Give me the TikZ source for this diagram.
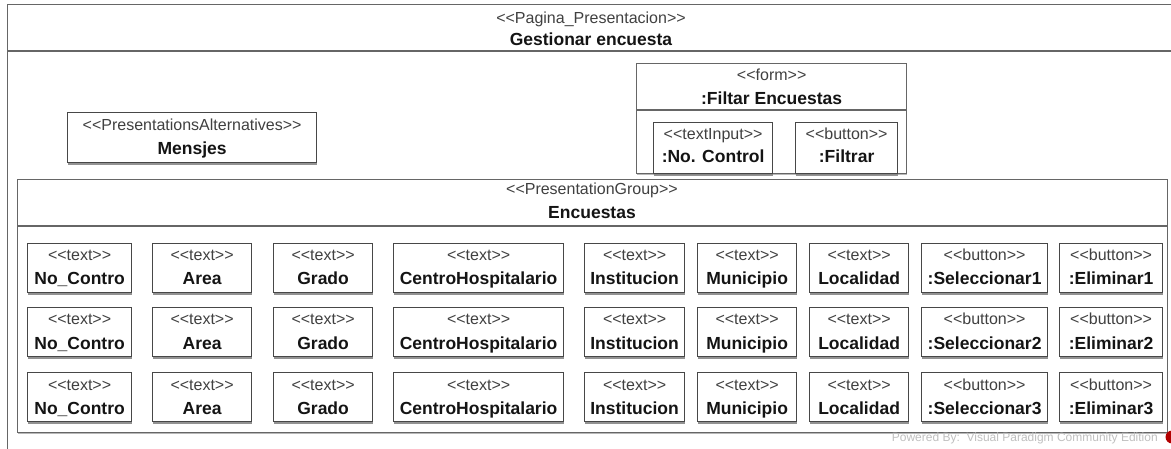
\documentclass[tikz,border=0pt]{standalone}
\usepackage{fontspec}
\setmainfont{Liberation Sans}
\usetikzlibrary{shadows}

% guillemet-free double angle brackets for stereotypes
\newcommand\dlt{<\kern0pt<}
\newcommand\dgt{>\kern0pt>}
\newcommand\stereo[1]{\dlt#1\dgt}

\tikzset{
  frameline/.style={draw=black!60, line width=1.4pt},
  uibox/.style={draw=black!72, line width=1.2pt, fill=white, inner sep=0pt, anchor=north west,
    drop shadow={shadow xshift=0.4pt, shadow yshift=-2.2pt, fill=black!50, opacity=0.85}},
  groupbox/.style={draw=black!60, line width=1.3pt, fill=white, inner sep=0pt, anchor=north west,
    drop shadow={shadow xshift=0.4pt, shadow yshift=-1.6pt, fill=black!35, opacity=0.8}},
  sttext/.style={font=\fontsize{16}{18}\selectfont, text=black!75, anchor=base, inner sep=0pt},
  nmtext/.style={font=\fontsize{17.5}{19}\selectfont\bfseries, text=black!92, anchor=base, inner sep=0pt},
  wmtext/.style={font=\fontsize{12}{13}\selectfont, text=black!25, anchor=base east, inner sep=0pt},
}

% UI element: name, x, y (top left), width, height, stereotype, label
\newcommand\uielem[7]{%
  \node[uibox, minimum width=#4pt, minimum height=#5pt] (#1) at (#2,#3) {};
  \node[sttext] (#1-s) at ([yshift=-18pt]#1.north) {\stereo{#6}};
  \node[nmtext] (#1-n) at ([yshift=-42pt]#1.north) {#7};
}

\begin{document}
\begin{tikzpicture}[x=1pt, y=-1pt]
\useasboundingbox (0,0) rectangle (1171,449);
\clip (0,0) rectangle (1171,449);

% page frame with its title bar
\node[draw=black!60, line width=1.4pt, inner sep=0pt, anchor=north west,
      minimum width=1200pt, minimum height=480pt] (page) at (7,4) {};
\draw[frameline] (7,51) -- (1171,51);
\node[sttext] (page-s) at (591,24) {\stereo{Pagina\_Presentacion}};
\node[nmtext] (page-n) at (591,46) {Gestionar encuesta};

% message alternatives
\node[uibox, minimum width=249pt, minimum height=50pt] (msg) at (67,112) {};
\node[sttext] (msg-s) at ([yshift=-19pt]msg.north) {\stereo{PresentationsAlternatives}};
\node[nmtext] (msg-n) at ([yshift=-43pt]msg.north) {Mensjes};

% filter form
\node[groupbox, minimum width=270pt, minimum height=110pt] (form) at (636,63) {};
\draw[draw=black!60, line width=1.2pt] (form.west |- 0,110) -- (form.east |- 0,110);
\node[sttext] (form-s) at ([yshift=-18pt]form.north) {\stereo{form}};
\node[nmtext] (form-n) at ([yshift=-42pt]form.north) {:Filtar Encuestas};
\node[uibox, minimum width=119pt, minimum height=51pt] (fin) at (653,122) {};
\node[sttext] (fin-s) at ([yshift=-18pt]fin.north) {\stereo{textInput}};
\node[nmtext] (fin-n) at ([yshift=-41pt]fin.north) {:No. Control};
\node[uibox, minimum width=102pt, minimum height=51pt] (fbt) at (795,122) {};
\node[sttext] (fbt-s) at ([yshift=-18pt]fbt.north) {\stereo{button}};
\node[nmtext] (fbt-n) at ([yshift=-41pt]fbt.north) {:Filtrar};

% survey group
\node[groupbox, minimum width=1150pt, minimum height=253pt] (grp) at (17,179) {};
\draw[draw=black!60, line width=1.2pt] (grp.west |- 0,226) -- (grp.east |- 0,226);
\node[sttext] (grp-s) at (592,195) {\stereo{PresentationGroup}};
\node[nmtext] (grp-n) at (592,219) {Encuestas};

% rows of survey fields
\foreach \rw/\ry in {1/243,2/307,3/372}{
  \foreach \cl/\cx/\cw/\st/\nm in {
      1/27/104/text/No\_Contro,
      2/152/99/text/Area,
      3/273/99/text/Grado,
      4/393/170/text/CentroHospitalario,
      5/584/100/text/Institucion,
      6/697/99/text/Municipio,
      7/809/99/text/Localidad,
      8/921/126/button/{:Seleccionar\rw},
      9/1059/103/button/{:Eliminar\rw}}{
    \uielem{f\rw-\cl}{\cx}{\ry}{\cw}{49}{\st}{\nm}
  }
}

% tool watermark
\node[wmtext] (wm) at (1158,441) {Powered By:\ \ Visual Paradigm Community Edition};
\node[circle, fill=red!70!black, inner sep=0pt, minimum size=13pt] (vp) at (1172,437) {};
\end{tikzpicture}
\end{document}
